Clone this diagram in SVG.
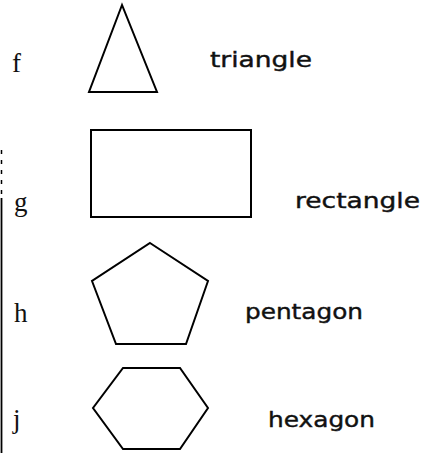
<svg xmlns="http://www.w3.org/2000/svg" width="429" height="453" viewBox="0 0 429 453">
<style>
.shape{fill:none;stroke:#000;stroke-width:2;stroke-linejoin:miter}
.lt{font-family:"Liberation Serif",serif;font-size:27px;fill:#111}
.nm{font-family:"DejaVu Sans","Liberation Sans",sans-serif;font-size:21px;fill:#111;stroke:#111;stroke-width:0.4}
</style>
<rect width="429" height="453" fill="#fff"/>
<line x1="1.5" y1="150" x2="1.5" y2="195" stroke="#000" stroke-width="1.5" stroke-dasharray="4 6"/>
<line x1="1.5" y1="198" x2="1.5" y2="453" stroke="#000" stroke-width="1.8"/>
<g id="row-f">
<text class="lt" x="12" y="72">f</text>
<polygon class="shape" points="122,5 89,92 157,92"/>
<text class="nm" x="210" y="67" textLength="102" lengthAdjust="spacingAndGlyphs">triangle</text>
</g>
<g id="row-g">
<text class="lt" x="14" y="211">g</text>
<rect class="shape" x="91" y="130" width="160" height="87"/>
<text class="nm" x="295" y="208" textLength="125" lengthAdjust="spacingAndGlyphs">rectangle</text>
</g>
<g id="row-h">
<text class="lt" x="14" y="322">h</text>
<polygon class="shape" points="150,243 208,281 186,344 116,344 92,281"/>
<text class="nm" x="245" y="319" textLength="118" lengthAdjust="spacingAndGlyphs">pentagon</text>
</g>
<g id="row-j">
<text class="lt" x="13" y="428">j</text>
<polygon class="shape" points="123,368 180,368 208,408 180,449 123,449 93,408"/>
<text class="nm" x="268" y="427" textLength="107" lengthAdjust="spacingAndGlyphs">hexagon</text>
</g>
</svg>
